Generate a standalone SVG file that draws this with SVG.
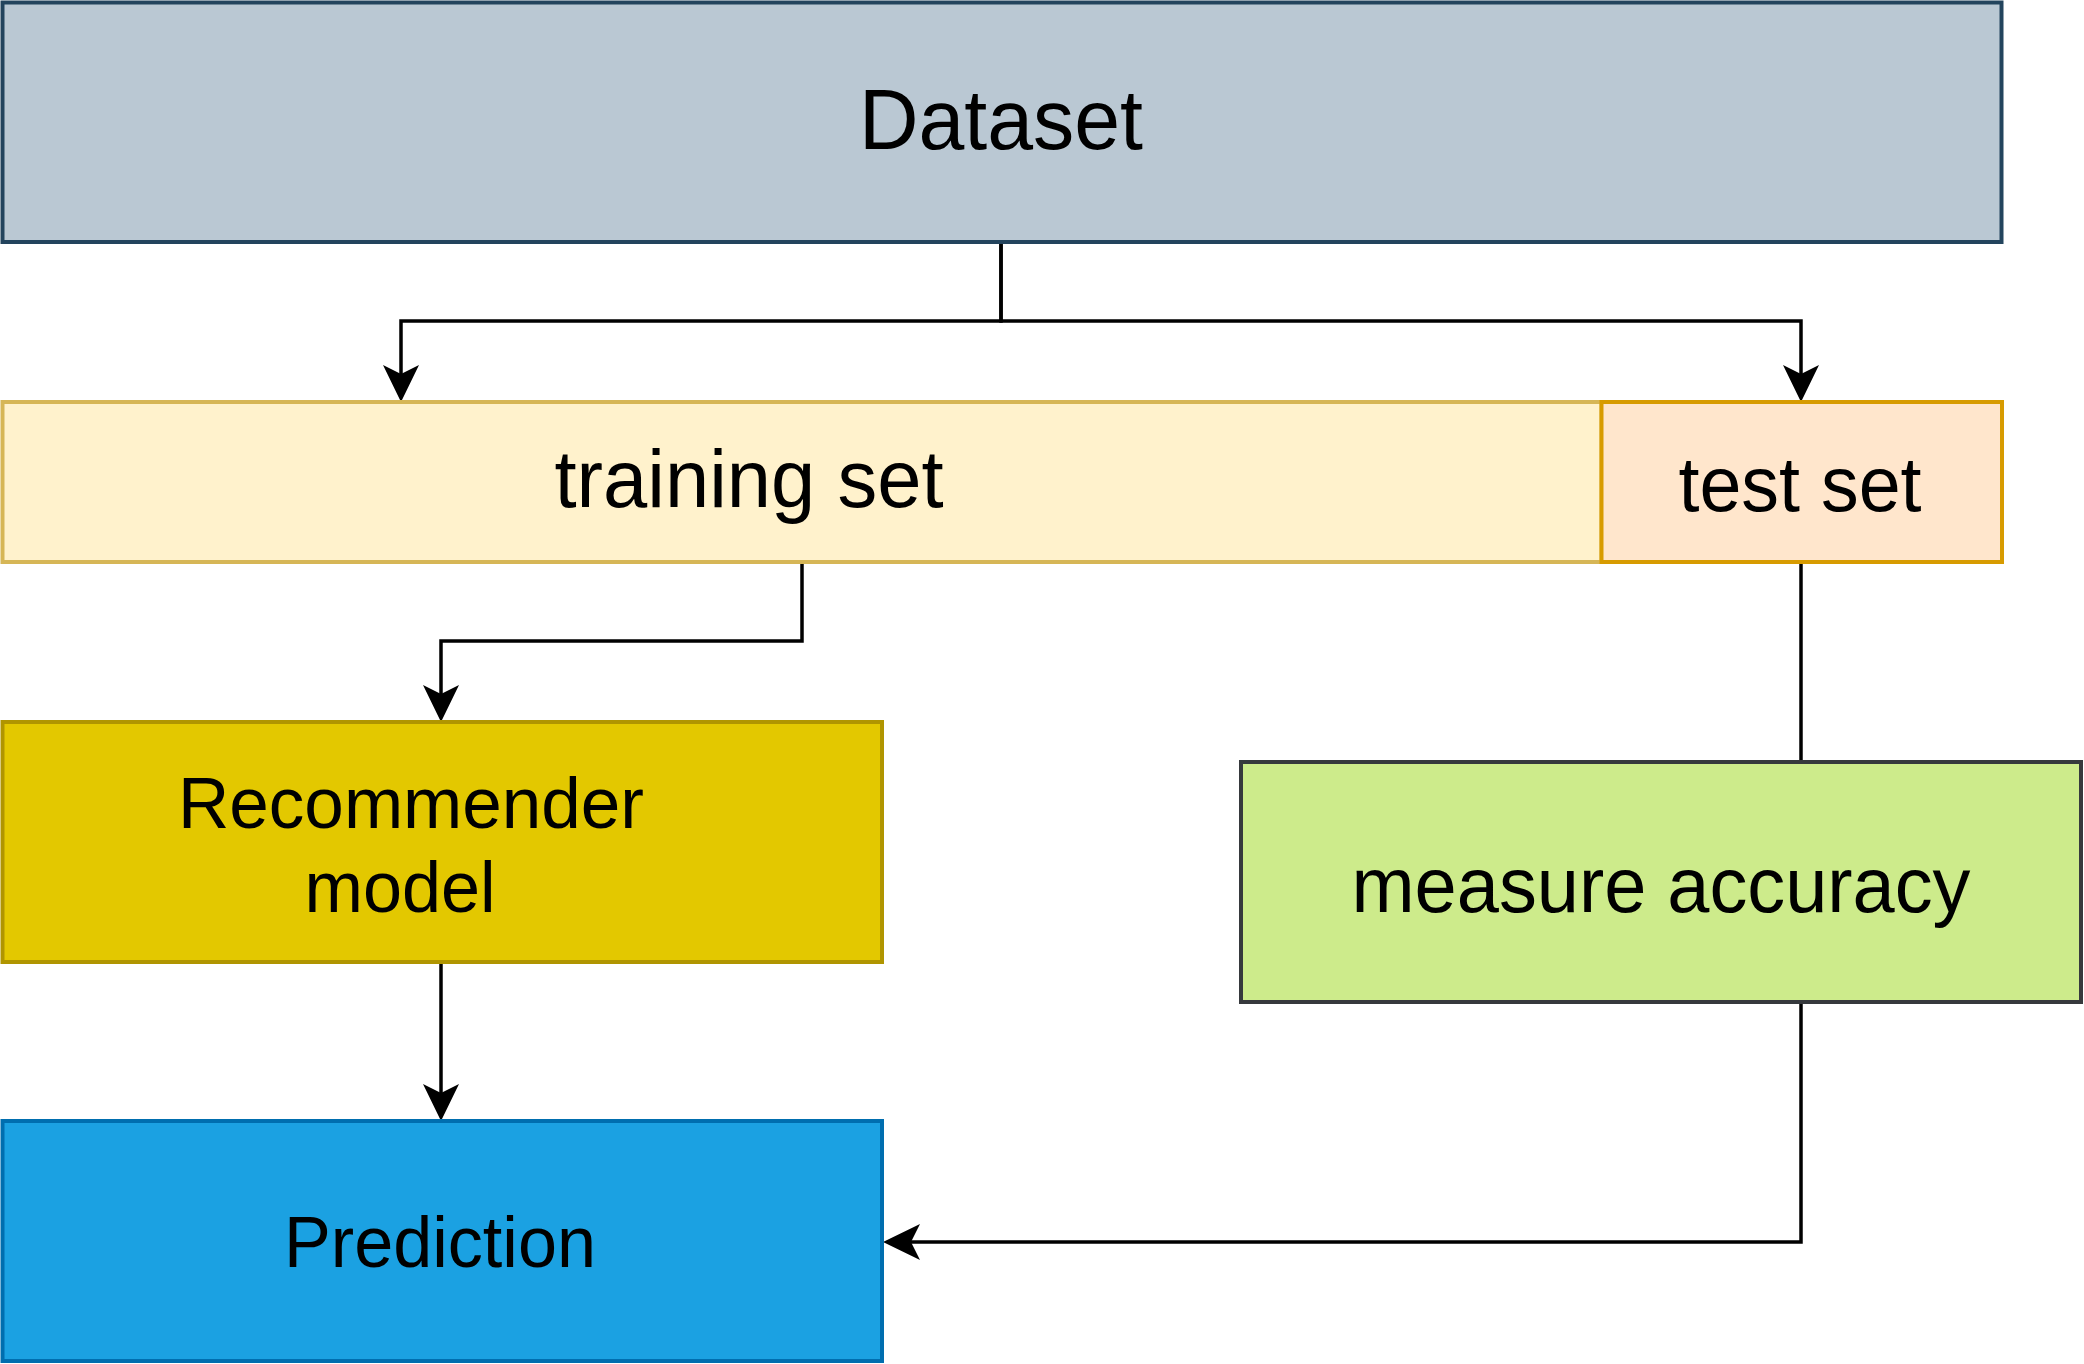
<svg xmlns="http://www.w3.org/2000/svg" width="2084" height="1364" viewBox="0 0 2084 1364">
<style>
.box{stroke-width:4}
.lbl{font-family:"Liberation Sans",Arial,Helvetica,sans-serif;fill:#000;text-anchor:middle}
.conn{fill:none;stroke:#000;stroke-width:3.5}
</style>
<defs>
<marker id="arr" viewBox="0 0 37 36" refX="9" refY="18" markerWidth="37" markerHeight="36" markerUnits="userSpaceOnUse" orient="auto">
<path d="M0,0 L37,18 L0,36 L9,18 Z" fill="#000"/>
</marker>
</defs>
<rect width="2084" height="1364" fill="#fff"/>
<g id="connectors">
<path class="conn" d="M1001,242 V321 H401 V374" marker-end="url(#arr)"/>
<path class="conn" d="M1001,242 V321 H1801 V374" marker-end="url(#arr)"/>
<path class="conn" d="M802,562 V641 H441 V694" marker-end="url(#arr)"/>
<path class="conn" d="M441,962 V1093" marker-end="url(#arr)"/>
<path class="conn" d="M1801,562 V762"/>
<path class="conn" d="M1801,1002 V1242 H911" marker-end="url(#arr)"/>
</g>
<g id="dataset">
<rect class="box" x="2.5" y="2.5" width="1999" height="239.5" fill="#bac8d3" stroke="#23445d"/>
<text class="lbl" x="1001" y="149" font-size="85" textLength="284" lengthAdjust="spacingAndGlyphs">Dataset</text>
</g>
<g id="training-set">
<rect class="box" x="2.5" y="402" width="1599" height="160" fill="#fff2cc" stroke="#d6b656"/>
<text class="lbl" x="749" y="507" font-size="82" textLength="389" lengthAdjust="spacingAndGlyphs">training set</text>
</g>
<g id="test-set">
<rect class="box" x="1601.5" y="402" width="400.5" height="160" fill="#ffe6cc" stroke="#d79b00"/>
<text class="lbl" x="1800" y="511" font-size="78" textLength="243" lengthAdjust="spacingAndGlyphs">test set</text>
</g>
<g id="recommender-model">
<rect class="box" x="2.5" y="722" width="879.5" height="240" fill="#e3c800" stroke="#b09500"/>
<text class="lbl" x="411" y="828" font-size="73" textLength="466" lengthAdjust="spacingAndGlyphs">Recommender</text>
<text class="lbl" x="400" y="912" font-size="73" textLength="191" lengthAdjust="spacingAndGlyphs">model</text>
</g>
<g id="measure-accuracy">
<rect class="box" x="1241" y="762" width="840" height="240" fill="#cdeb8b" stroke="#36393d"/>
<text class="lbl" x="1661" y="912" font-size="78" textLength="619" lengthAdjust="spacingAndGlyphs">measure accuracy</text>
</g>
<g id="prediction">
<rect class="box" x="2.5" y="1121" width="879.5" height="240" fill="#1ba1e2" stroke="#006eaf"/>
<text class="lbl" x="440" y="1267" font-size="72" textLength="312" lengthAdjust="spacingAndGlyphs">Prediction</text>
</g>
</svg>
